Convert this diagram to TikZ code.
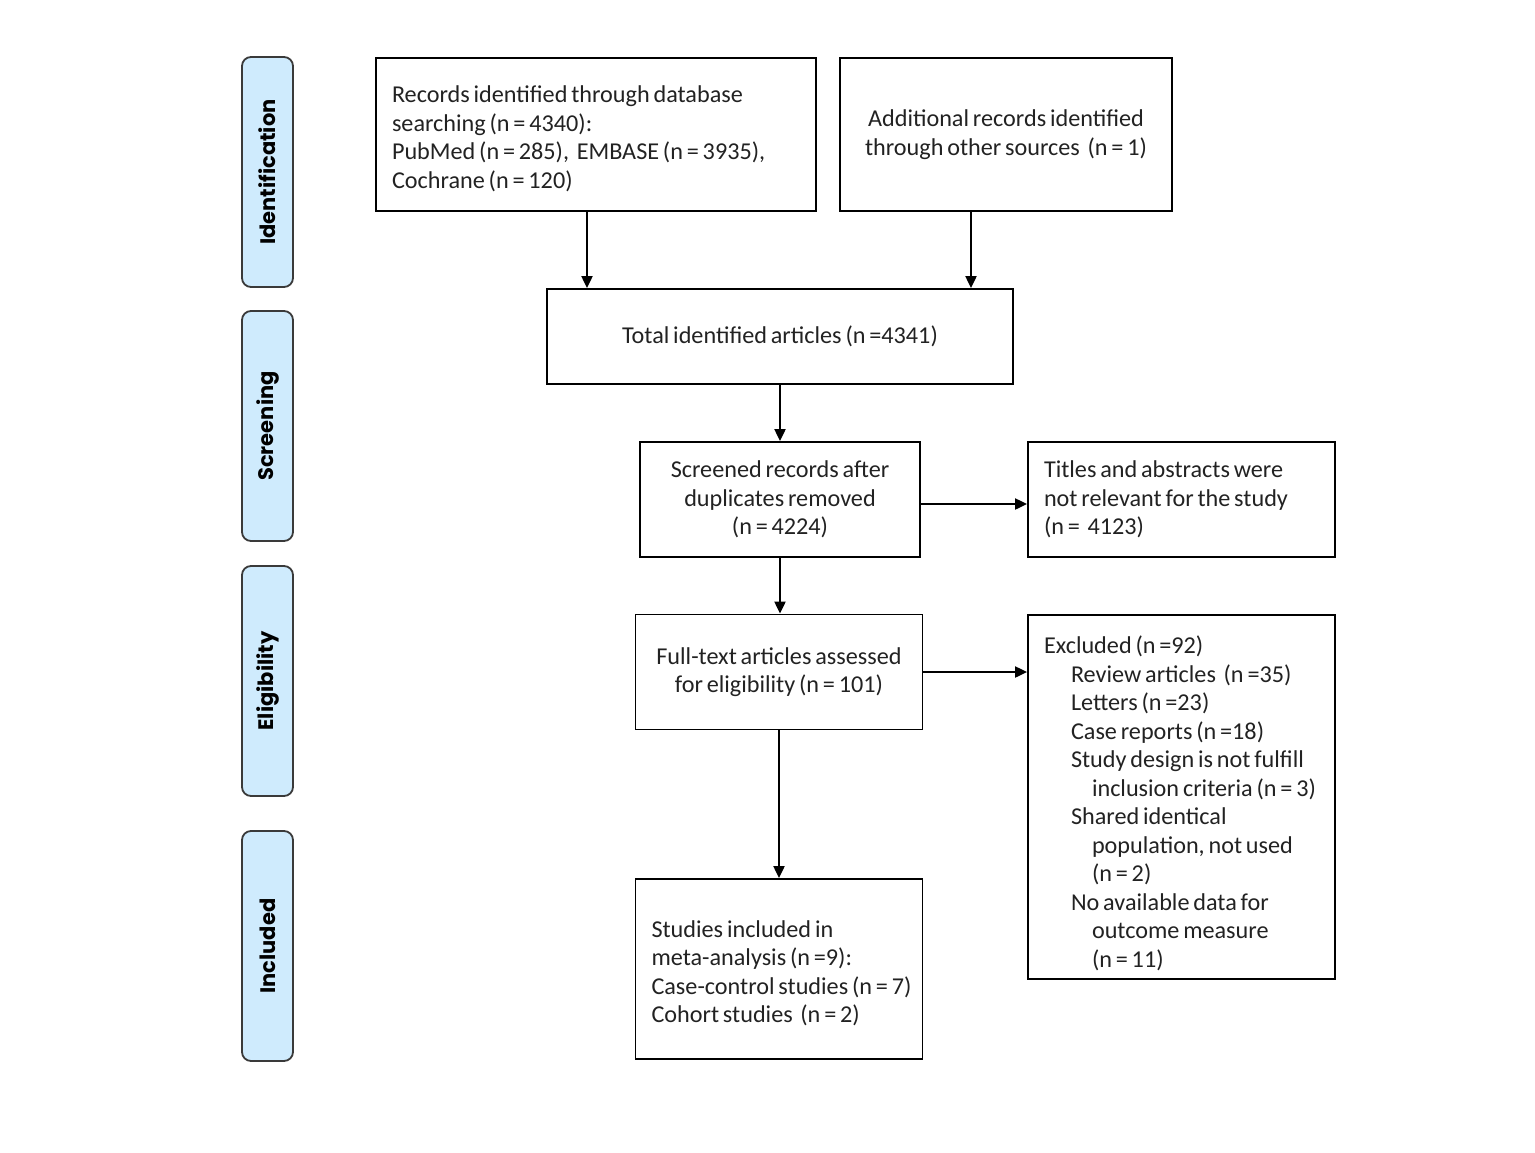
\documentclass[tikz,border=0pt]{standalone}
\usepackage{fontspec}
\setmainfont[WordSpace=0.7]{Carlito}
\newfontfamily\sidefont{Poppins}
\usetikzlibrary{arrows.meta}
\definecolor{sidefill}{HTML}{CFEBFD}
\definecolor{sideline}{HTML}{3A3A3A}
\definecolor{txt}{HTML}{222222}
\newcommand{\lowerstrut}{\rule{0pt}{25pt}}
\begin{document}
\begin{tikzpicture}[x=1pt,y=-1pt,
  box/.style={draw=black,line width=1.8pt,inner sep=0pt,font=\fontsize{24.2}{28.5}\selectfont,text=txt},
  side/.style={draw=sideline,fill=sidefill,line width=1.8pt,rounded corners=9pt,minimum width=51pt,minimum height=230pt,inner sep=0pt},
  sidetxt/.style={rotate=90,font=\sidefont\bfseries\fontsize{21}{24}\selectfont,text=black},
  arr/.style={line width=2pt,-{Triangle[length=12pt,width=11pt]}}]
\useasboundingbox (0,0) rectangle (1535,1152);
% side labels
\node[side] (s1) at (267.5,172) {};
\node[sidetxt] at (s1) {Identification};
\node[side] (s2) at (267.5,426) {};
\node[sidetxt] at (s2) {Screening};
\node[side] (s3) at (267.5,681) {};
\node[sidetxt] at (s3) {Eligibility};
\node[side] (s4) at (267.5,946) {};
\node[sidetxt] at (s4) {Included};
% boxes
\node[box,minimum width=440pt,minimum height=153pt,text width=408pt,align=flush left] (A) at (596,134.5)
 {\lowerstrut Records identified through database\\searching (n = 4340):\\PubMed (n = 285), \ EMBASE (n = 3935),\\Cochrane (n = 120)};
\node[box,minimum width=332pt,minimum height=153pt,align=center] (B) at (1006,134.5)
 {Additional records identified\\through other sources \ (n = 1)};
\node[box,minimum width=466pt,minimum height=95pt,align=center] (C) at (780,336.5)
 {Total identified articles (n =4341)};
\node[box,minimum width=280pt,minimum height=115pt,align=center] (D) at (780,499.5)
 {Screened records after\\duplicates removed\\(n = 4224)};
\node[box,minimum width=307pt,minimum height=115pt,text width=275pt,align=flush left] (E) at (1181.5,499.5)
 {Titles and abstracts were\\not relevant for the study\\(n = \ 4123)};
\node[box,minimum width=287pt,minimum height=115pt,align=center] (F) at (779,672)
 {Full-text articles assessed\\for eligibility (n = 101)};
\node[box,minimum width=307pt,minimum height=364pt,text width=275pt,align=flush left] (G) at (1181.5,797)
 {\rule{0pt}{30pt}Excluded (n =92)\\
 \hspace*{27pt}Review articles \ (n =35)\\
 \hspace*{27pt}Letters (n =23)\\
 \hspace*{27pt}Case reports (n =18)\\
 \hspace*{27pt}Study design is not fulfill\\
 \hspace*{48pt}\mbox{inclusion criteria (n = 3)}\\
 \hspace*{27pt}Shared identical\\
 \hspace*{48pt}population, not used\\
 \hspace*{48pt}(n = 2)\\
 \hspace*{27pt}No available data for\\
 \hspace*{48pt}outcome measure\\
 \hspace*{48pt}(n = 11)};
\node[box,minimum width=287pt,minimum height=180pt,text width=255pt,align=flush left] (H) at (779,969)
 {\lowerstrut Studies included in\\meta-analysis (n =9):\\\mbox{Case-control studies (n = 7)}\\Cohort studies \ (n = 2)};
% connectors
\draw[arr] ([xshift=-9pt]A.south) -- ([xshift=-9pt]A.south |- C.north);
\draw[arr] ([xshift=-35pt]B.south) -- ([xshift=-35pt]B.south |- C.north);
\draw[arr] (C.south) -- (C.south |- D.north);
\draw[arr] ([yshift=-4.5pt]D.east) -- ([yshift=-4.5pt]D.east -| E.west);
\draw[arr] (D.south) -- (D.south |- F.north);
\draw[arr] (F.east) -- (F.east -| G.west);
\draw[arr] (F.south) -- (F.south |- H.north);
\end{tikzpicture}
\end{document}
